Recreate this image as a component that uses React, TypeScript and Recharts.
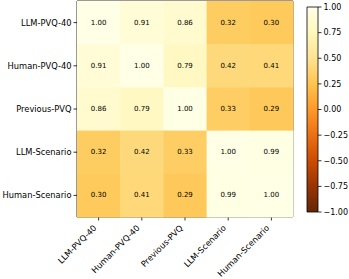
import React from "react";
import {
  ScatterChart,
  Scatter,
  XAxis,
  YAxis,
  ReferenceArea,
  BarChart,
  Bar,
} from "recharts";

const labels = [
  "LLM-PVQ-40",
  "Human-PVQ-40",
  "Previous-PVQ",
  "LLM-Scenario",
  "Human-Scenario",
];

const row0 = [1.0, 0.91, 0.86, 0.32, 0.3];
const row1 = [0.91, 1.0, 0.79, 0.42, 0.41];
const row2 = [0.86, 0.79, 1.0, 0.33, 0.29];
const row3 = [0.32, 0.42, 0.33, 1.0, 0.99];
const row4 = [0.3, 0.41, 0.29, 0.99, 1.0];
const matrix = [row0, row1, row2, row3, row4];

const cbTicks = [-1, -0.75, -0.5, -0.25, 0, 0.25, 0.5, 0.75, 1];

// YlOrBr stops (matplotlib), used reversed
const ylorbr = [
  "#ffffe5",
  "#fff7bc",
  "#fee391",
  "#fec44f",
  "#fe9929",
  "#ec7014",
  "#cc4c02",
  "#993404",
  "#662506",
];

const hex = (c: string) => [
  parseInt(c.slice(1, 3), 16),
  parseInt(c.slice(3, 5), 16),
  parseInt(c.slice(5, 7), 16),
];

function colorFor(v: number) {
  const t = (v + 1) / 2;
  const s = Math.min(1, Math.max(0, 1 - t)) * (ylorbr.length - 1);
  const i = Math.min(ylorbr.length - 2, Math.floor(s));
  const f = s - i;
  const a = hex(ylorbr[i]);
  const b = hex(ylorbr[i + 1]);
  const m = a.map((x, k) => Math.round(x + (b[k] - x) * f));
  return `rgb(${m[0]},${m[1]},${m[2]})`;
}

const points = matrix.flatMap((row, i) =>
  row.map((v, j) => ({ x: j, y: i, v }))
);

const FONT = "DejaVu Sans, sans-serif";
const PLOT = 216;
const CELL = PLOT / labels.length;

const Cell = (props: any) => {
  const { cx, cy, payload } = props;
  return (
    <g>
      <rect
        x={cx - CELL / 2}
        y={cy - CELL / 2}
        width={CELL + 0.5}
        height={CELL + 0.5}
        fill={colorFor(payload.v)}
      />
      <text
        x={cx}
        y={cy}
        textAnchor="middle"
        dominantBaseline="central"
        fontSize={7}
        fontFamily={FONT}
        fill="#000"
      >
        {payload.v.toFixed(2)}
      </text>
    </g>
  );
};

const XTick = (props: any) => {
  const { x, y, payload } = props;
  return (
    <text
      x={0}
      y={0}
      transform={`translate(${x - 1.5},${y + 6}) rotate(-45)`}
      textAnchor="end"
      fontSize={8.3}
      fontFamily={FONT}
      fill="#000"
    >
      {labels[payload.value]}
    </text>
  );
};

const cbData = [{ name: "cb", range: [-1, 1] }];

export default function App() {
  return (
    <div style={{ position: "absolute", left: 0, top: 0, width: 349, height: 279, background: "#fff" }}>
      <div style={{ position: "absolute", left: 0, top: 0 }}>
        <ScatterChart
          width={300}
          height={279}
          margin={{ top: 1, right: 7, bottom: 0, left: 0 }}
        >
          <XAxis
            type="number"
            dataKey="x"
            domain={[-0.5, 4.5]}
            ticks={[0, 1, 2, 3, 4]}
            height={62}
            axisLine={false}
            tickLine={{ stroke: "#000", strokeWidth: 0.8 }}
            tickSize={3.5}
            tickMargin={2}
            interval={0}
            tick={<XTick />}
          />
          <YAxis
            type="number"
            dataKey="y"
            domain={[-0.5, 4.5]}
            ticks={[0, 1, 2, 3, 4]}
            reversed
            width={77}
            axisLine={false}
            tickLine={{ stroke: "#000", strokeWidth: 0.8 }}
            tickSize={3.5}
            tickMargin={2}
            interval={0}
            tickFormatter={(v: number) => labels[v]}
            tick={{ fontSize: 8.3, fontFamily: FONT, fill: "#000" }}
          />
          <Scatter data={points} shape={<Cell />} isAnimationActive={false} />
          <ReferenceArea
            x1={-0.5}
            x2={4.5}
            y1={-0.5}
            y2={4.5}
            fill="none"
            fillOpacity={0}
            stroke="#000"
            strokeWidth={0.8}
            strokeOpacity={1}
          />
        </ScatterChart>
      </div>
      <div style={{ position: "absolute", left: 300, top: 0 }}>
        <BarChart
          width={49}
          height={279}
          data={cbData}
          barCategoryGap={0}
          margin={{ top: 7, right: 0, bottom: 67, left: 7 }}
        >
          <defs>
            <linearGradient id="cbGrad" x1="0" y1="0" x2="0" y2="1">
              {ylorbr.map((c, i) => (
                <stop key={i} offset={`${(i / (ylorbr.length - 1)) * 100}%`} stopColor={c} />
              ))}
            </linearGradient>
          </defs>
          <XAxis dataKey="name" hide />
          <YAxis
            orientation="right"
            domain={[-1, 1]}
            ticks={cbTicks}
            width={31}
            axisLine={false}
            tickLine={{ stroke: "#000", strokeWidth: 0.8 }}
            tickSize={3.5}
            tickMargin={2}
            interval={0}
            tickFormatter={(v: number) => v.toFixed(2).replace("-", "\u2212")}
            tick={{ fontSize: 8, fontFamily: FONT, fill: "#000", textAnchor: "start" }}
          />
          <Bar
            dataKey="range"
            fill="url(#cbGrad)"
            stroke="#000"
            strokeWidth={0.8}
            isAnimationActive={false}
          />
        </BarChart>
      </div>
    </div>
  );
}
